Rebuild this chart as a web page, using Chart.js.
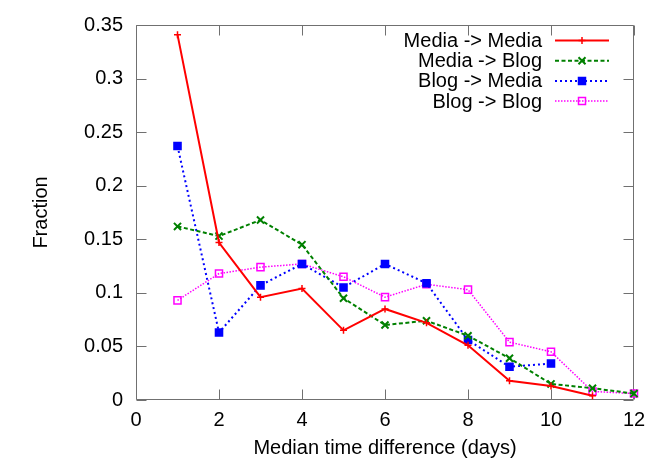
<!DOCTYPE html>
<html>
<head>
<meta charset="utf-8">
<script src="https://cdn.jsdelivr.net/npm/chart.js@4.4.1/dist/chart.umd.min.js"></script>
<style>
  html, body { margin: 0; padding: 0; background: #fff; }
  #wrap { width: 664px; height: 465px; }
</style>
</head>
<body>
<div id="wrap"><canvas id="chart" width="664" height="465"></canvas></div>
<script>
// values
const days = [1, 2, 3, 4, 5, 6, 7, 8, 9, 10, 11, 12];
const mediaToMedia = [0.341, 0.147, 0.096, 0.104, 0.065, 0.085, 0.072, 0.051, 0.018, 0.013, 0.004];
const mediaToBlog = [0.162, 0.153, 0.168, 0.145, 0.095, 0.070, 0.074, 0.060, 0.039, 0.015, 0.011, 0.006];
const blogToMedia = [0.237, 0.063, 0.107, 0.127, 0.105, 0.127, 0.109, 0.056, 0.031, 0.034];
const blogToBlog = [0.093, 0.118, 0.124, 0.127, 0.115, 0.096, 0.108, 0.103, 0.054, 0.045, 0.008, 0.006];
const seriesNames = ["Media -> Media", "Media -> Blog", "Blog -> Media", "Blog -> Blog"];
const xTickLabels = ["0", "2", "4", "6", "8", "10", "12"];
const yTickLabels = ["0", "0.05", "0.1", "0.15", "0.2", "0.25", "0.3", "0.35"];

const FONT = { family: "'Liberation Sans', Arial, sans-serif", size: 20 };

function points(values) {
  return values.map((v, i) => ({ x: days[i], y: v }));
}

// gnuplot-like frame with inward ticks on all four sides
const framePlugin = {
  id: "frame",
  beforeDatasetsDraw(chart) {
    const { ctx, chartArea: a, scales } = chart;
    ctx.save();
    ctx.strokeStyle = "#707070";
    ctx.lineWidth = 1;
    const L = Math.round(a.left) + 0.5, R = Math.round(a.right) - 0.5;
    const T = Math.round(a.top) + 0.5, B = Math.round(a.bottom) - 0.5;
    ctx.beginPath();
    ctx.rect(L, T, R - L, B - T);
    const len = 10;
    scales.x.ticks.forEach(t => {
      const px = Math.round(scales.x.getPixelForValue(t.value)) + 0.5;
      ctx.moveTo(px, B); ctx.lineTo(px, B - len);
      ctx.moveTo(px, T); ctx.lineTo(px, T + len);
    });
    scales.y.ticks.forEach(t => {
      const py = Math.round(scales.y.getPixelForValue(t.value)) + 0.5;
      ctx.moveTo(L, py); ctx.lineTo(L + len, py);
      ctx.moveTo(R, py); ctx.lineTo(R - len, py);
    });
    ctx.stroke();
    ctx.restore();
  }
};

function drawMarker(ctx, ds, x, y) {
  ctx.save();
  ctx.setLineDash([]);
  ctx.lineWidth = ds.pointBorderWidth;
  ctx.strokeStyle = ds.pointBorderColor;
  ctx.fillStyle = ds.pointBackgroundColor;
  const s = 3.5;
  ctx.beginPath();
  if (ds.pointStyle === "cross") {
    ctx.moveTo(x - s, y); ctx.lineTo(x + s, y);
    ctx.moveTo(x, y - s); ctx.lineTo(x, y + s);
    ctx.stroke();
  } else if (ds.pointStyle === "crossRot") {
    ctx.moveTo(x - s, y - s); ctx.lineTo(x + s, y + s);
    ctx.moveTo(x - s, y + s); ctx.lineTo(x + s, y - s);
    ctx.stroke();
  } else {
    ctx.rect(x - s, y - s, 2 * s, 2 * s);
    if (ds.pointBackgroundColor !== "transparent") ctx.fill();
    ctx.stroke();
  }
  ctx.restore();
}

// legend: right-aligned labels with line samples, top right
const keyPlugin = {
  id: "key",
  afterDraw(chart) {
    const { ctx } = chart;
    ctx.save();
    ctx.font = FONT.size + "px " + FONT.family;
    ctx.textAlign = "right";
    ctx.textBaseline = "middle";
    chart.data.datasets.forEach((ds, i) => {
      const y = 40.5 + i * 20.2;
      ctx.fillStyle = "#000";
      ctx.fillText(ds.label, 542, y + 1);
      ctx.beginPath();
      ctx.strokeStyle = ds.borderColor;
      ctx.lineWidth = ds.borderWidth;
      ctx.setLineDash(ds.borderDash);
      ctx.moveTo(555, y);
      ctx.lineTo(609, y);
      ctx.stroke();
      drawMarker(ctx, ds, 582, y);
    });
    ctx.restore();
  }
};

const datasets = [
  {
    label: seriesNames[0], data: points(mediaToMedia),
    borderColor: "#ff0000", borderWidth: 2, borderDash: [],
    pointStyle: "cross", pointRadius: 3.5,
    pointBorderColor: "#ff0000", pointBackgroundColor: "#ff0000", pointBorderWidth: 1.5
  },
  {
    label: seriesNames[1], data: points(mediaToBlog),
    borderColor: "#008000", borderWidth: 2, borderDash: [4, 2.5],
    pointStyle: "crossRot", pointRadius: 5,
    pointBorderColor: "#008000", pointBackgroundColor: "#008000", pointBorderWidth: 2
  },
  {
    label: seriesNames[2], data: points(blogToMedia),
    borderColor: "#0000ff", borderWidth: 2, borderDash: [2, 3],
    pointStyle: "rect", pointRadius: 5,
    pointBorderColor: "#0000ff", pointBackgroundColor: "#0000ff", pointBorderWidth: 1.5
  },
  {
    label: seriesNames[3], data: points(blogToBlog),
    borderColor: "#ff00ff", borderWidth: 1.5, borderDash: [1.5, 1.5],
    pointStyle: "rect", pointRadius: 5,
    pointBorderColor: "#ff00ff", pointBackgroundColor: "transparent", pointBorderWidth: 1.5
  }
].map(d => Object.assign(d, { fill: false, tension: 0, clip: false, pointHoverRadius: d.pointRadius }));

new Chart(document.getElementById("chart"), {
  type: "line",
  data: { datasets },
  options: {
    responsive: false,
    animation: false,
    events: [],
    layout: { padding: { left: 0, right: 30, top: 24, bottom: 0 } },
    plugins: { legend: { display: false }, tooltip: { enabled: false } },
    scales: {
      x: {
        type: "linear", min: 0, max: 12,
        afterFit: s => { s.height = 65; },
        grid: { display: false, drawTicks: false },
        border: { display: false },
        ticks: {
          stepSize: 2, padding: 8, color: "#000", font: FONT, maxRotation: 0,
          callback: (v, i) => xTickLabels[i]
        },
        title: { display: true, text: "Median time difference (days)", color: "#000", font: FONT, padding: { top: 0, bottom: 5 } }
      },
      y: {
        min: 0, max: 0.35,
        afterFit: s => { s.width = 136; },
        grid: { display: false, drawTicks: false },
        border: { display: false },
        ticks: {
          stepSize: 0.05, padding: 13, color: "#000", font: FONT,
          callback: (v, i) => yTickLabels[i]
        },
        title: { display: true, text: "Fraction", color: "#000", font: FONT, padding: { top: 29, bottom: 0 } }
      }
    }
  },
  plugins: [framePlugin, keyPlugin]
});
</script>
</body>
</html>
